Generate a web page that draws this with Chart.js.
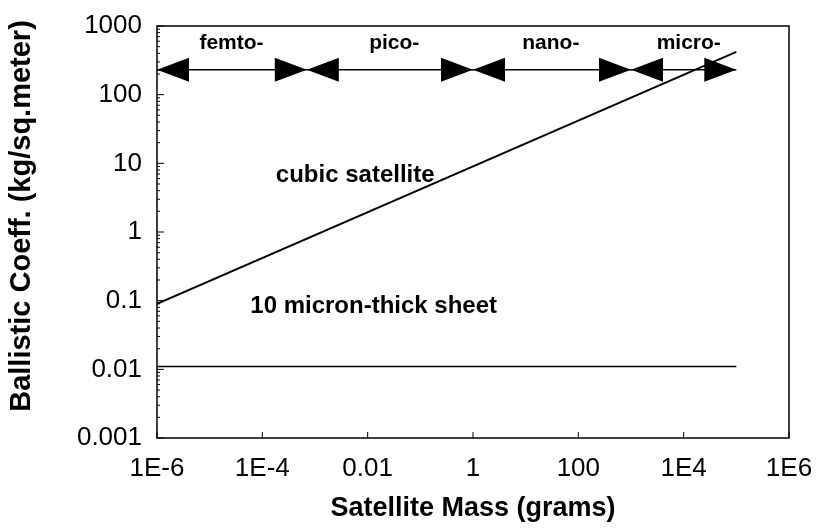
<!DOCTYPE html>
<html>
<head>
<meta charset="utf-8">
<script src="https://cdn.jsdelivr.net/npm/chart.js@4/dist/chart.umd.min.js"></script>
<style>
  html, body { margin: 0; padding: 0; background: #fff; }
  #wrap { width: 820px; height: 531px; }
</style>
</head>
<body>
<div id="wrap"><canvas id="massChart" width="820" height="531"></canvas></div>
<script>
const xTicks = [1e-6, 1e-4, 1e-2, 1, 100, 1e4, 1e6];
const xTickLabels = ["1E-6", "1E-4", "0.01", "1", "100", "1E4", "1E6"];
const yTicks = [0.001, 0.01, 0.1, 1, 10, 100, 1000];
const yTickLabels = ["0.001", "0.01", "0.1", "1", "10", "100", "1000"];

// cubic satellite and thin sheet curves
const cubicMass = [1e-6, 1e5];
const cubicCoeff = [0.09, 420];
const sheetMass = [1e-6, 1e5];
const sheetCoeff = [0.011, 0.011];

// size classes along the arrow row
const classNames = ["femto-", "pico-", "nano-", "micro-"];
const classBounds = [1e-6, 7e-4, 1, 1000, 1e5];
const classLabelX = [2.6e-5, 0.032, 30, 1.25e4];
const classLabelY = 560;
const arrowLevel = 230;

const curveLabels = ["cubic satellite", "10 micron-thick sheet"];
const curveLabelX = [0.0058, 0.013];
const curveLabelY = [6.6, 0.083];

const yTitle = "Ballistic Coeff. (kg/sq.meter)";
const FONT = "'Liberation Sans', Arial, sans-serif";

function pairs(xs, ys) {
  return xs.map((x, i) => ({ x: x, y: ys[i] }));
}

const decorPlugin = {
  id: "decor",
  afterDatasetsDraw(chart) {
    const ctx = chart.ctx;
    const xs = chart.scales.x;
    const ys = chart.scales.y;
    const a = chart.chartArea;
    ctx.save();
    ctx.strokeStyle = "#000";
    ctx.fillStyle = "#000";

    // box
    ctx.lineWidth = 1.5;
    ctx.strokeRect(a.left, a.top, a.right - a.left, a.bottom - a.top);

    // inward ticks
    ctx.lineWidth = 1;
    ctx.beginPath();
    xTicks.forEach((v) => {
      const px = xs.getPixelForValue(v);
      ctx.moveTo(px, a.bottom);
      ctx.lineTo(px, a.bottom - 6);
    });
    yTicks.forEach((v, i) => {
      const py = ys.getPixelForValue(v);
      ctx.moveTo(a.left, py);
      ctx.lineTo(a.left + 7, py);
      if (i < yTicks.length - 1) {
        for (let k = 2; k <= 9; k++) {
          const pm = ys.getPixelForValue(v * k);
          ctx.moveTo(a.left, pm);
          ctx.lineTo(a.left + 3, pm);
        }
      }
    });
    ctx.stroke();

    // arrowheads
    const ay = ys.getPixelForValue(arrowLevel);
    const len = 32;
    const half = 12;
    function head(tipX, dir) {
      ctx.beginPath();
      ctx.moveTo(tipX, ay);
      ctx.lineTo(tipX + dir * len, ay - half);
      ctx.lineTo(tipX + dir * len, ay + half);
      ctx.closePath();
      ctx.fill();
    }
    classBounds.forEach((b, i) => {
      const px = xs.getPixelForValue(b);
      if (i > 0) head(px, -1);
      if (i < classBounds.length - 1) head(px, 1);
    });

    // texts
    ctx.textAlign = "center";
    ctx.textBaseline = "middle";
    ctx.font = "bold 21px " + FONT;
    classNames.forEach((n, i) => {
      ctx.fillText(n, xs.getPixelForValue(classLabelX[i]), ys.getPixelForValue(classLabelY));
    });
    ctx.font = "bold 24px " + FONT;
    curveLabels.forEach((n, i) => {
      ctx.fillText(n, xs.getPixelForValue(curveLabelX[i]), ys.getPixelForValue(curveLabelY[i]));
    });

    // y axis title
    ctx.translate(22, 216);
    ctx.rotate(-Math.PI / 2);
    ctx.font = "bold 29px " + FONT;
    ctx.fillText(yTitle, 0, 0);
    ctx.restore();
  },
};

const ctx = document.getElementById("massChart").getContext("2d");
const massChart = new Chart(ctx, {
  type: "scatter",
  data: {
    datasets: [
      {
        label: "cubic satellite",
        data: pairs(cubicMass, cubicCoeff),
        showLine: true,
        borderColor: "#000",
        borderWidth: 2,
        pointRadius: 0,
      },
      {
        label: "10 micron-thick sheet",
        data: pairs(sheetMass, sheetCoeff),
        showLine: true,
        borderColor: "#000",
        borderWidth: 1.5,
        pointRadius: 0,
      },
      {
        label: "classes",
        data: pairs([classBounds[0], classBounds[classBounds.length - 1]], [arrowLevel, arrowLevel]),
        showLine: true,
        borderColor: "#000",
        borderWidth: 1.5,
        pointRadius: 0,
      },
    ],
  },
  options: {
    responsive: false,
    animation: false,
    layout: { padding: { top: 26, right: 31, left: 0, bottom: 0 } },
    plugins: {
      legend: { display: false },
      tooltip: { enabled: false },
    },
    scales: {
      x: {
        type: "logarithmic",
        min: 1e-6,
        max: 1e6,
        grid: { display: false },
        border: { display: false },
        afterBuildTicks: (s) => {
          s.ticks = xTicks.map((v) => ({ value: v }));
        },
        afterFit: (s) => {
          s.height = 93;
        },
        ticks: {
          autoSkip: false,
          maxRotation: 0,
          padding: 7,
          color: "#000",
          font: { family: FONT, size: 26 },
          callback: (v, i) => xTickLabels[i],
        },
        title: {
          display: true,
          text: "Satellite Mass (grams)",
          color: "#000",
          padding: { top: 0, bottom: 6 },
          font: { family: FONT, size: 27, weight: "bold" },
        },
      },
      y: {
        type: "logarithmic",
        min: 0.001,
        max: 1000,
        grid: { display: false },
        border: { display: false },
        afterBuildTicks: (s) => {
          s.ticks = yTicks.map((v) => ({ value: v }));
        },
        afterFit: (s) => {
          s.width = 157;
        },
        ticks: {
          autoSkip: false,
          padding: 7,
          color: "#000",
          font: { family: FONT, size: 26 },
          callback: (v, i) => yTickLabels[i],
        },
      },
    },
  },
  plugins: [decorPlugin],
});
</script>
</body>
</html>
